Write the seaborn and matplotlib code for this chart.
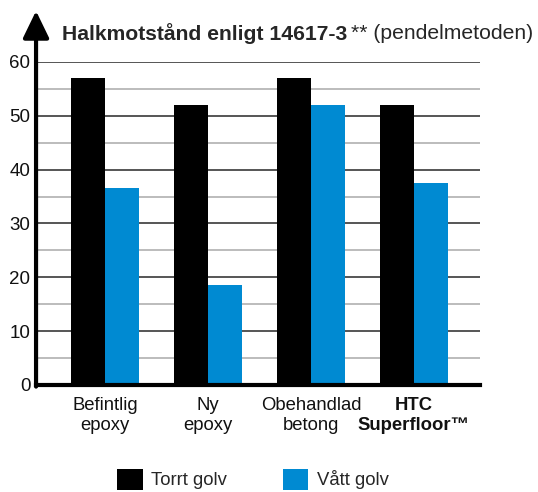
import pandas as pd
import numpy as np
import matplotlib.pyplot as plt
import seaborn as sns
from matplotlib.patches import Patch

categories = ["Befintlig\nepoxy", "Ny\nepoxy", "Obehandlad\nbetong", "HTC\nSuperfloor™"]
dry = [57, 52, 57, 52]
wet = [36.5, 18.6, 52, 37.5]
series_names = ["Torrt golv", "Vått golv"]
colors = ["#000000", "#008ad2"]

df = pd.DataFrame({
    "cat": categories * 2,
    "value": dry + wet,
    "series": [series_names[0]] * 4 + [series_names[1]] * 4,
})

sns.set_style("white")
plt.rcParams['font.family'] = ['Liberation Sans', 'DejaVu Sans']

fig = plt.figure(figsize=(5.38, 4.92), dpi=100)
ax = fig.add_axes([0.067, 0.2175, 0.825, 0.6565])

# grid lines
for v in range(5, 61, 5):
    if v % 10 == 0:
        ax.axhline(v, color="#555555", lw=1.4, zorder=0)
    else:
        ax.axhline(v, color="#b0b0b0", lw=1.2, zorder=0)

sns.barplot(data=df, x="cat", y="value", hue="series", palette=colors,
            width=0.66, gap=0, saturation=1, linewidth=0, ax=ax,
            legend=False, zorder=2)

ax.set_xlim(-0.67, 3.64)
ax.set_ylim(0, 60)
ax.set_yticks(range(0, 61, 10))
ax.set_xlabel("")
ax.set_ylabel("")
for s in ["top", "right", "left"]:
    ax.spines[s].set_visible(False)
ax.spines["bottom"].set_linewidth(3)
ax.spines["bottom"].set_color("black")
ax.tick_params(axis="y", length=0, labelsize=13.5, colors="#111111", pad=4)
ax.tick_params(axis="x", length=0, labelsize=13.3, colors="#111111", pad=9)
labels = ax.get_xticklabels()
labels[-1].set_fontweight("bold")

# y axis with arrow
ax.annotate("", xy=(0, 1.158), xytext=(0, -0.005), xycoords="axes fraction",
            arrowprops=dict(arrowstyle="-|>,head_width=0.8,head_length=1.65",
                            lw=3, color="black", shrinkA=0, shrinkB=0),
            annotation_clip=False)

# title
t1 = fig.text(0.115, 0.932, "Halkmotstånd enligt 14617-3", fontsize=15.2,
              fontweight="bold", ha="left", va="center")
fig.canvas.draw()
bb = t1.get_window_extent()
x_end = fig.transFigure.inverted().transform((bb.x1, bb.y0))[0]
fig.text(x_end + 0.008, 0.932, "** (pendelmetoden)", fontsize=15.2,
         ha="left", va="center")

handles = [Patch(facecolor=c, edgecolor="none") for c in colors]
fig.legend(handles, series_names, loc="center", bbox_to_anchor=(0.47, 0.026),
           ncol=2, frameon=False, fontsize=13.3, handlelength=1.4,
           handleheight=1.35, handletextpad=0.45, columnspacing=3.0)

fig.savefig("out.png", dpi=100)
